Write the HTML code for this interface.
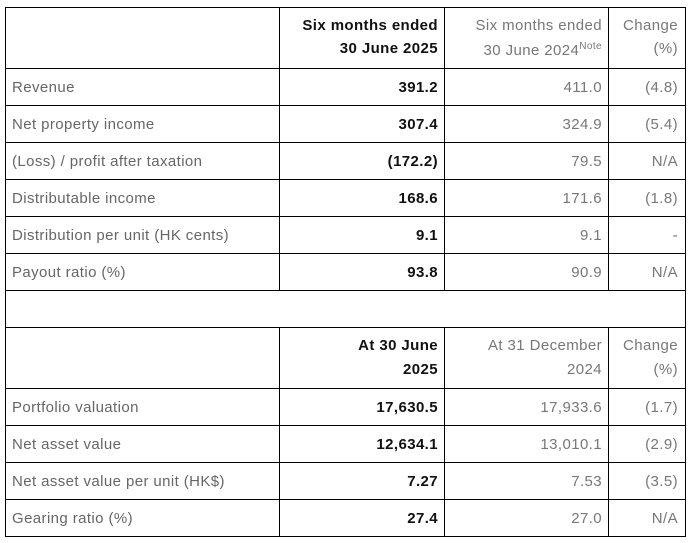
<!DOCTYPE html>
<html><head><meta charset="utf-8"><style>
body{margin:0;background:#fff;width:691px;height:543px;position:relative;font-family:"Liberation Sans",sans-serif;font-size:15px;overflow:hidden}
.h{position:absolute;height:1px;background:#000}
.v{position:absolute;width:1px;background:#000}
.t{position:absolute;white-space:nowrap;line-height:18px;letter-spacing:0.4px}
.l{color:#666;left:12px}
.b{color:#111;font-weight:bold;text-align:right}
.g{color:#777;text-align:right}
</style></head><body>
<div id="grid"></div>
<script>
const rowLines=[7,68,105,142,179,216,253,290,327,388,425,462,499,536];
const cols=[5,279,444,608,685];
const g=document.getElementById('grid');
rowLines.forEach(y=>{const d=document.createElement('div');d.className='h';d.style.top=y+'px';d.style.left='5px';d.style.width='681px';


g.appendChild(d);});
function v(x,y1,y2){const d=document.createElement('div');d.className='v';d.style.left=x+'px';d.style.top=y1+'px';d.style.height=(y2-y1+1)+'px';


g.appendChild(d);}
v(5,7,536);v(685,7,536);
[279,444,608].forEach(x=>{v(x,7,290);v(x,327,536);});
const labels1=["Revenue","Net property income","(Loss) / profit after taxation","Distributable income","Distribution per unit (HK cents)","Payout ratio (%)"];
const cur1=["391.2","307.4","(172.2)","168.6","9.1","93.8"];
const prev1=["411.0","324.9","79.5","171.6","9.1","90.9"];
const chg1=["(4.8)","(5.4)","N/A","(1.8)","-","N/A"];
const labels2=["Portfolio valuation","Net asset value","Net asset value per unit (HK$)","Gearing ratio (%)"];
const cur2=["17,630.5","12,634.1","7.27","27.4"];
const prev2=["17,933.6","13,010.1","7.53","27.0"];
const chg2=["(1.7)","(2.9)","(3.5)","N/A"];
function txt(cls,txtv,x,right,y,name){const d=document.createElement('div');d.className='t '+cls;d.innerHTML=txtv;
if(right){d.style.right=(691-x)+'px';}else{d.style.left=x+'px';}
d.style.top=y+'px';


g.appendChild(d);}
function rows(labels,cur,prev,chg,starts){labels.forEach((l,i)=>{const y=starts+i*37+11;
txt('l',l,12,false,y,'row-label');
txt('b',cur[i],438,true,y,'current-value');
txt('g',prev[i],602,true,y,'prior-value');
txt('g',chg[i],678,true,y,'change-value');});}
rows(labels1,cur1,prev1,chg1,68);
rows(labels2,cur2,prev2,chg2,388);
txt('b','Six months ended',438,true,17,'header-current');
txt('b','30 June 2025',438,true,40,'header-current-date');
txt('g','Six months ended',602,true,17,'header-prior');
txt('g','30 June 2024<sup style="font-size:10px;vertical-align:6px">Note</sup>',602,true,38,'header-prior-date');
txt('g','Change',678,true,17,'header-change');
txt('g','(%)',678,true,40,'header-change-unit');
txt('b','At 30 June',438,true,337,'header-current-2');
txt('b','2025',438,true,361,'header-current-2-year');
txt('g','At 31 December',602,true,337,'header-prior-2');
txt('g','2024',602,true,361,'header-prior-2-year');
txt('g','Change',678,true,337,'header-change-2');
txt('g','(%)',678,true,361,'header-change-2-unit');
</script>
</body></html>
